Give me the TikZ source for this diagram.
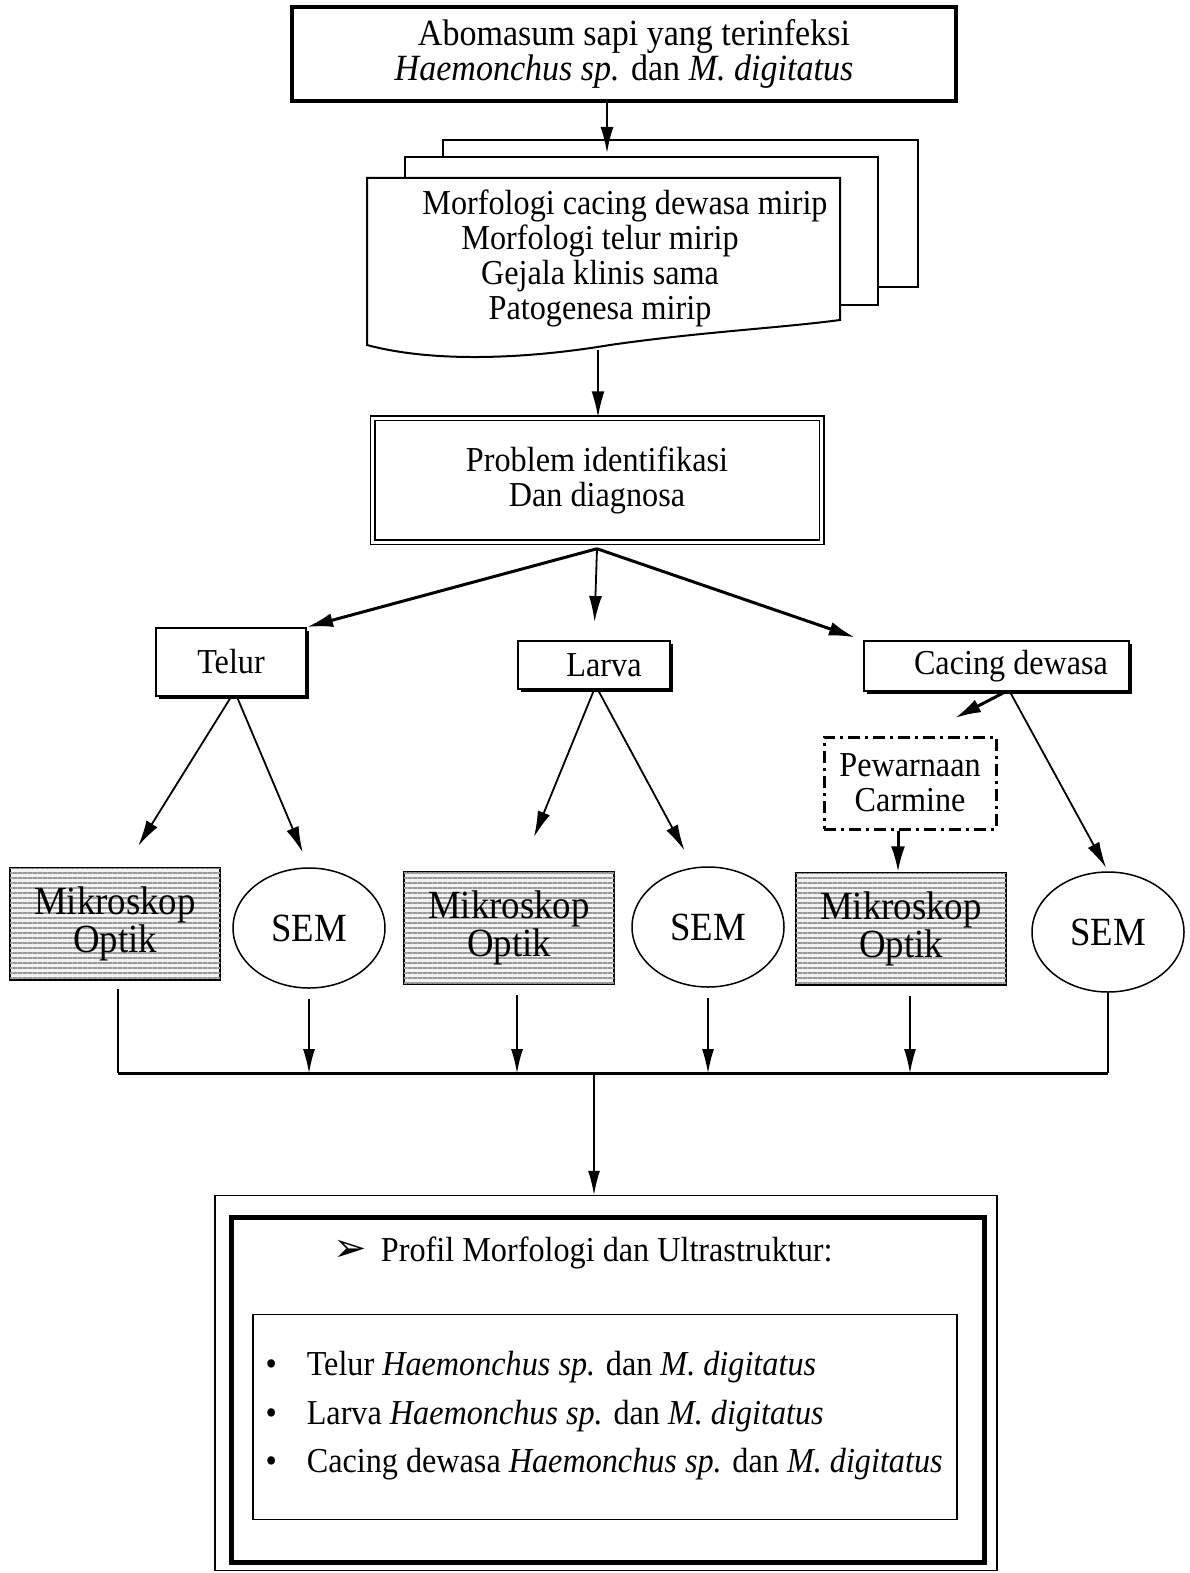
\documentclass[tikz,border=0pt]{standalone}
\usepackage{fontspec}
\setmainfont{Liberation Serif}[FakeStretch=0.92]
\newfontfamily\symfont{DejaVu Sans}
\usetikzlibrary{arrows.meta,shapes.geometric,shadows,patterns.meta,positioning}

\tikzset{
  thinarr/.style={-{Latex[length=24pt,width=12pt]}, line width=1.2pt},
  arr/.style={-{Latex[length=26pt,width=13pt]}, line width=1.8pt},
  bigarr/.style={-{Latex[length=26pt,width=14pt]}, line width=3pt},
  stagebox/.style={draw, line width=2pt, fill=white,
      general shadow={fill=black, shadow xshift=3pt, shadow yshift=-3pt}},
  mikbox/.style={draw, line width=1.5pt, minimum width=210pt, minimum height=112pt, align=center,
      font=\fontsize{40}{35}\selectfont,
      preaction={fill=gray!10},
      postaction={pattern={Lines[angle=0,distance=5pt,line width=1.6pt]}, pattern color=gray!80}},
  semnode/.style={ellipse, draw, line width=1.5pt, minimum width=152pt, minimum height=120pt,
      font=\fontsize{40}{35}\selectfont},
}

\begin{document}
\begin{tikzpicture}[x=1pt, y=-1pt, font=\fontsize{35}{35}\selectfont]
    \useasboundingbox (0,0) rectangle (1189,1573);

    % Nodes
    \node (abom) [draw, line width=4pt, minimum width=664pt, minimum height=94pt, align=center,
        font=\fontsize{37}{33}\selectfont] at (624,54)
        {\hspace*{20pt}Abomasum sapi yang terinfeksi\\ \textit{Haemonchus sp.} dan \textit{M. digitatus}};

    % stacked documents
    \draw[line width=2pt] (443,157) -- (443,140) -- (918,140) -- (918,287) -- (878,287);
    \draw[line width=2pt] (405,178) -- (405,157) -- (878,157) -- (878,305) -- (840,305);
    \draw[line width=2pt, fill=white] (367,178) -- (840,178) -- (840,320)
        .. controls (780,328) and (700,332) .. (610,345)
        .. controls (520,360) and (430,362) .. (367,345) -- cycle;
    \node (ciri) [align=center] at (600,258)
        {\hspace*{50pt}Morfologi cacing dewasa mirip\\ Morfologi telur mirip\\ Gejala klinis sama\\ Patogenesa mirip};
    \coordinate (stacktop) at (607,153);
    \coordinate (stackbot) at (598,350);

    \node (prob) [draw, double, double distance=3pt, line width=1.5pt, minimum width=449pt, minimum height=124pt, align=center] at (597,480)
        {Problem identifikasi\\ Dan diagnosa};

    \node (telur) [stagebox, minimum width=150pt, minimum height=68pt] at (231,662) {Telur};
    \node (larva) [stagebox, minimum width=152pt, minimum height=48pt] at (594,665) {\hspace{20pt}Larva};
    \node (cacing) [stagebox, minimum width=265pt, minimum height=50pt] at (996,666) {\hspace{30pt}Cacing dewasa};

    \node (pw) [draw, line width=3pt, dash pattern=on 12pt off 5pt on 3pt off 5pt, minimum width=172pt, minimum height=92pt, align=center] at (910,783)
        {Pewarnaan\\ Carmine};
    \coordinate (pwtip) at (955,718);

    \node (mik1) [mikbox] at (115,924) {Mikroskop\\ Optik};
    \node (sem1) [semnode] at (309,928) {SEM};
    \node (mik2) [mikbox] at (509,928) {Mikroskop\\ Optik};
    \node (sem2) [semnode] at (708,927) {SEM};
    \node (mik3) [mikbox] at (901,929) {Mikroskop\\ Optik};
    \node (sem3) [semnode] at (1108,932) {SEM};

    \coordinate (busL) at (118,1073);
    \coordinate (busmid) at (594,1073);
    \coordinate (busR) at (1108,1073);

    \node (hasil) [draw, line width=1.5pt, minimum width=782pt, minimum height=375pt] at (606,1383) {};
    \node (profil) [draw, line width=5pt, minimum width=753pt, minimum height=345pt] at (608,1390) {};
    \node (daftar) [draw, line width=1.5pt, minimum width=704pt, minimum height=205pt] at (605,1417) {};
    \node (judul) at (583,1253) {{\symfont\fontsize{40}{35}\selectfont ➢}\hspace{14pt}Profil Morfologi dan Ultrastruktur:};
    \node (isi) [anchor=west, align=left, font=\fontsize{35}{48.5}\selectfont] at (262,1416)
        {\textbullet\hspace{30pt}Telur \textit{Haemonchus sp.} dan \textit{M. digitatus}\\
         \textbullet\hspace{30pt}Larva \textit{Haemonchus sp.} dan \textit{M. digitatus}\\
         \textbullet\hspace{30pt}Cacing dewasa \textit{Haemonchus sp.} dan \textit{M. digitatus}};

    % Arrows
    \draw[arr] (abom.south -| stacktop) -- (stacktop);
    \draw[arr] (stackbot) -- (stackbot |- prob.north);
    \draw[bigarr] ([yshift=-6pt]prob.south) -- (telur.north east);
    \draw[arr, shorten >=18pt] ([yshift=-6pt]prob.south) -- (larva.north);
    \draw[bigarr, shorten >=8pt] ([yshift=-6pt]prob.south) -- (cacing.north west);

    \draw[arr, shorten >=25pt] (telur.south) -- ([xshift=10pt]mik1.north);
    \draw[arr, shorten >=16pt] ([xshift=6pt]telur.south) -- (sem1.north);
    \draw[arr, shorten >=37pt] (larva.south) -- ([xshift=11pt]mik2.north);
    \draw[arr, shorten >=18pt] ([xshift=4pt]larva.south) -- ([xshift=-15pt]sem2.north);
    \draw[bigarr] ([xshift=9pt]cacing.south) -- (pwtip);
    \draw[arr, shorten >=4pt] ([xshift=14pt]cacing.south) -- (sem3.north);
    \draw[bigarr] ([xshift=-12pt]pw.south) -- ([xshift=-12pt]pw.south |- mik3.north);

    \draw[line width=3pt] (busL) -- (busR);
    \draw[line width=1.2pt, shorten <=8pt] (mik1.south -| busL) -- (busL);
    \draw[line width=1.2pt] (sem3.south) -- (sem3.south |- busR);
    \draw[thinarr, shorten <=10pt] (sem1.south) -- (sem1.south |- busmid);
    \draw[thinarr, shorten <=10pt] ([xshift=8pt]mik2.south) -- ([xshift=8pt]mik2.south |- busmid);
    \draw[thinarr, shorten <=10pt] (sem2.south) -- (sem2.south |- busmid);
    \draw[thinarr, shorten <=10pt] ([xshift=9pt]mik3.south) -- ([xshift=9pt]mik3.south |- busmid);
    \draw[thinarr] (busmid) -- (busmid |- hasil.north);
\end{tikzpicture}
\end{document}
